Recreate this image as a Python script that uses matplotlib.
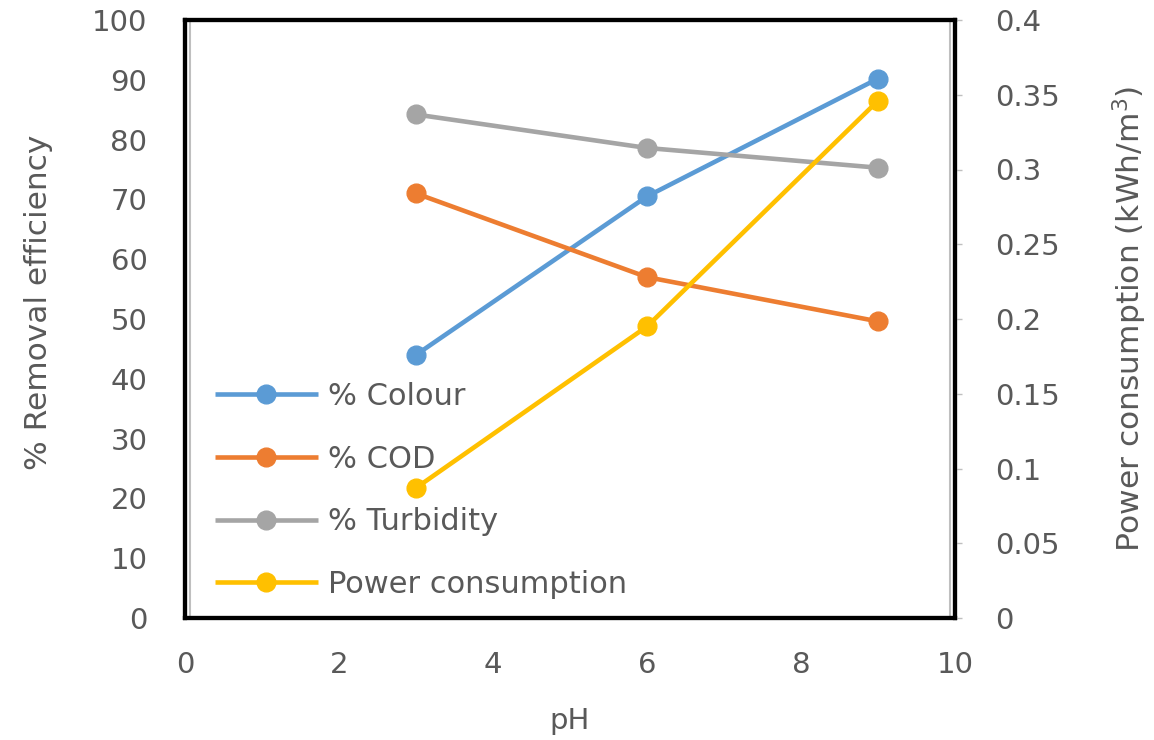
import matplotlib
matplotlib.use("Agg")
import matplotlib.pyplot as plt

ph = [3, 6, 9]
colour = [44.0, 70.5, 90.2]
cod = [71.0, 57.0, 49.6]
turbidity = [84.2, 78.6, 75.3]
power = [0.087, 0.195, 0.346]

x_ticks = [0, 2, 4, 6, 8, 10]
left_ticks = list(range(0, 101, 10))
right_ticks = [0, 0.05, 0.1, 0.15, 0.2, 0.25, 0.3, 0.35, 0.4]
right_labels = ["0", "0.05", "0.1", "0.15", "0.2", "0.25", "0.3", "0.35", "0.4"]

TXT = "#595959"
C_BLUE, C_ORANGE, C_GREY, C_GOLD = "#5B9BD5", "#ED7D31", "#A5A5A5", "#FFC000"
FS_TICK = 21
FS_LABEL = 22.5
FS_LEG = 22

plt.rcParams["font.family"] = ["DejaVu Sans"]

fig = plt.figure(figsize=(11.54, 7.40), dpi=100)
ax = fig.add_axes([185 / 1154, 1 - 618 / 740, (955 - 185) / 1154, (618 - 20) / 740])
ax2 = ax.twinx()

style = dict(lw=3.3, marker="o", ms=13.5, solid_capstyle="butt")
l1, = ax.plot(ph, colour, color=C_BLUE, label="% Colour", **style)
l2, = ax.plot(ph, cod, color=C_ORANGE, label="% COD", **style)
l3, = ax.plot(ph, turbidity, color=C_GREY, label="% Turbidity", **style)
l4, = ax2.plot(ph, power, color=C_GOLD, label="Power consumption", **style)

ax.set_xlim(0, 10)
ax.set_ylim(0, 100)
ax2.set_ylim(0, 0.4)
ax.set_xticks(x_ticks)
ax.set_yticks(left_ticks)
ax2.set_yticks(right_ticks)
ax2.set_yticklabels(right_labels)

ax.tick_params(axis="x", length=0, pad=24, labelsize=FS_TICK, labelcolor=TXT)
ax.tick_params(axis="y", length=0, pad=27, labelsize=FS_TICK, labelcolor=TXT)
ax2.tick_params(axis="y", length=5, width=1, color="#BFBFBF", pad=24,
                labelsize=FS_TICK, labelcolor=TXT)

for a in (ax, ax2):
    for s in a.spines.values():
        s.set_color("black")
        s.set_linewidth(3)

# light inner frame line
for xv in (0.006, 0.994):
    ax.axvline(xv * 10, color="#BFBFBF", lw=1.5, zorder=1)

ax.set_xlabel("pH", fontsize=FS_TICK, color=TXT, labelpad=20)
ax.set_ylabel("% Removal efficiency", fontsize=FS_LABEL, color=TXT)
ax.yaxis.set_label_coords(-0.172, 0.528)
ax2.set_ylabel("Power consumption (kWh/m$^3$)", fontsize=FS_LABEL, color=TXT,
               labelpad=36)

leg = ax2.legend(handles=[l1, l2, l3, l4], loc="upper left",
                 bbox_to_anchor=(215 / 1154, 1 - 382 / 740),
                 bbox_transform=fig.transFigure, frameon=False,
                 fontsize=FS_LEG, handlelength=3.37, handletextpad=0.33,
                 labelspacing=1.1, borderpad=0, borderaxespad=0)
for t in leg.get_texts():
    t.set_color(TXT)

fig.savefig("out.png", dpi=100)
